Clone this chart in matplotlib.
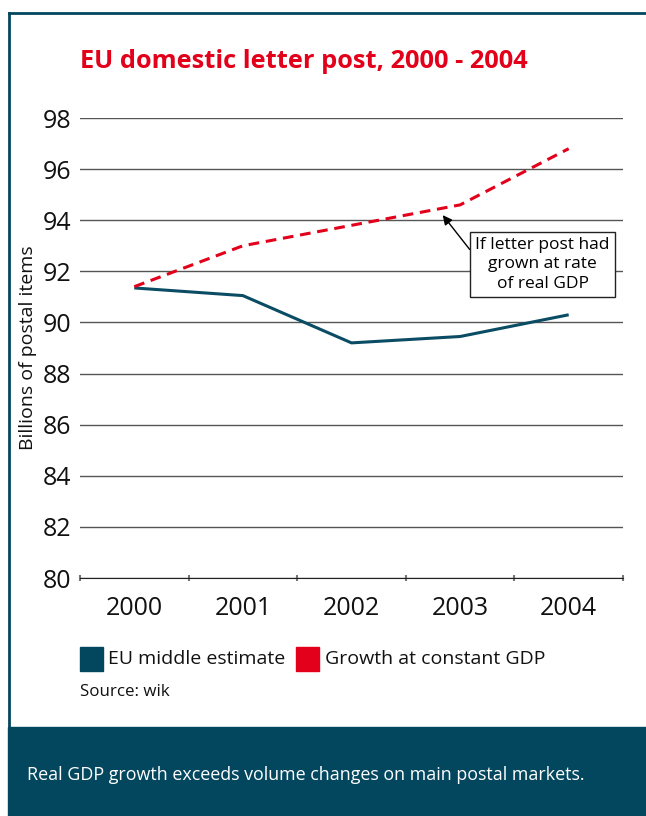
import matplotlib
matplotlib.use("Agg")
import matplotlib.pyplot as plt
from matplotlib.patches import Rectangle
from matplotlib.lines import Line2D

years = ["2000", "2001", "2002", "2003", "2004"]
eu_middle = [91.35, 91.05, 89.2, 89.45, 90.3]
gdp_growth = [91.4, 93.0, 93.8, 94.6, 96.8]
yticks = [80, 82, 84, 86, 88, 90, 92, 94, 96, 98]

navy = "#03475f"
red = "#e2001a"
font = "Open Sans"

fig = plt.figure(figsize=(6.46, 8.16), dpi=100)
W, H = 646, 816

def fx(px):
    return px / W

def fy(py):
    return 1 - py / H

# frame border
fig.add_artist(Line2D([fx(9), fx(9)], [fy(13), fy(727)], color=navy, lw=2, transform=fig.transFigure))
fig.add_artist(Line2D([fx(9), 1.0], [fy(13), fy(13)], color=navy, lw=2, transform=fig.transFigure))
# bottom band
fig.add_artist(Rectangle((fx(8), 0), 1 - fx(8), fy(727), color=navy, transform=fig.transFigure, zorder=0))

ax = fig.add_axes([fx(80), fy(578), fx(623) - fx(80), fy(118) - fy(578)])
x = list(range(len(years)))
ax.plot(x, eu_middle, color="#0b4c65", lw=2.2, solid_capstyle="butt")
ax.plot(x, gdp_growth, color=red, lw=2.2, dashes=(3.5, 2.2))

ax.set_xlim(-0.5, 4.5)
ax.set_ylim(80, 98)
ax.set_yticks(yticks)
ax.set_yticklabels([str(v) for v in yticks], fontsize=18, family=font, color="#111111")
ax.set_xticks(x)
ax.set_xticklabels(years, fontsize=18, family=font, color="#111111")
ax.tick_params(axis="x", which="major", length=0, pad=13)
ax.tick_params(axis="y", length=0, pad=6)
ax.set_xticks([i - 0.5 for i in range(len(years) + 1)], minor=True)
ax.tick_params(axis="x", which="minor", length=4, width=1.5, color="#777777", direction="inout")
ax.grid(axis="y", color="#555555", lw=1)
for s in ["top", "right", "left"]:
    ax.spines[s].set_visible(False)
ax.spines["bottom"].set_color("#222222")
ax.set_axisbelow(True)
ax.set_ylabel("Billions of postal items", fontsize=14, family=font, labelpad=4, color="#111111")

# annotation
ax.annotate("If letter post had\ngrown at rate\nof real GDP",
            xy=(2.84, 94.2), xytext=(3.76, 92.27),
            ha="center", va="center", fontsize=12.5, family=font, linespacing=1.3,
            bbox=dict(boxstyle="square,pad=0.3", fc="white", ec="#222222", lw=1),
            arrowprops=dict(arrowstyle="-|>", color="black", lw=1, shrinkA=0, shrinkB=0,
                            mutation_scale=14, relpos=(0, 0.64)))

# title
fig.text(fx(80), fy(62), "EU domestic letter post, 2000 - 2004", color=red, fontsize=18.3,
         fontweight="bold", family=font, va="center", ha="left")

# legend
fig.add_artist(Rectangle((fx(80), fy(671)), fx(23), fy(647) - fy(671), color=navy, transform=fig.transFigure))
fig.text(fx(108), fy(659), "EU middle estimate", fontsize=14, family=font, va="center", color="#111111")
fig.add_artist(Rectangle((fx(296), fy(671)), fx(23), fy(647) - fy(671), color=red, transform=fig.transFigure))
fig.text(fx(325), fy(659), "Growth at constant GDP", fontsize=14, family=font, va="center", color="#111111")
fig.text(fx(80), fy(692), "Source: wik", fontsize=12.2, family=font, va="center", color="#111111")

fig.text(fx(27), fy(775), "Real GDP growth exceeds volume changes on main postal markets.",
         fontsize=12.9, family=font, va="center", color="white")

fig.savefig("out.png", dpi=100)
